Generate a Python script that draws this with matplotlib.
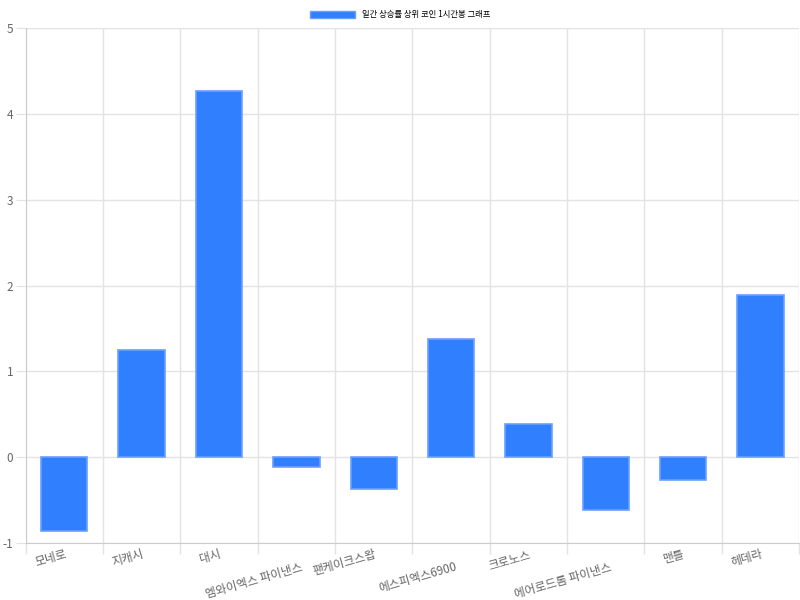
import matplotlib.pyplot as plt
from matplotlib.patches import Patch

plt.rcParams['font.family'] = ['Noto Sans CJK KR', 'DejaVu Sans']
plt.rcParams['axes.unicode_minus'] = False

coins = ["모네로", "지캐시", "대시", "엠와이엑스 파이낸스", "팬케이크스왑",
         "에스피엑스6900", "크로노스", "에어로드롬 파이낸스", "맨틀", "헤데라"]
changes = [-0.86, 1.25, 4.27, -0.11, -0.37, 1.38, 0.39, -0.62, -0.26, 1.89]
second_row = [False, False, False, True, False, True, False, True, False, False]
title = "일간 상승률 상위 코인 1시간봉 그래프"

bar_color = "#2f7fff"
edge_color = "#6b9fff"
grid_color = "#e3e3e3"
text_color = "#666666"

fig = plt.figure(figsize=(8, 6), dpi=100)
ax = fig.add_axes([0.032, 0.095, 0.967, 0.858])

x = list(range(len(coins)))
ax.bar(x, changes, width=0.6, color=bar_color, edgecolor=edge_color, linewidth=1.2, zorder=3)

ax.set_xlim(-0.5, len(coins) - 0.5)
ax.set_ylim(-1, 5)
ax.set_yticks(range(-1, 6))

# category gridlines sit between the bars
ax.set_xticks([i - 0.5 for i in range(len(coins) + 1)], minor=False)
ax.set_xticklabels([])
ax.tick_params(axis='x', length=8, color=grid_color, width=1)
ax.set_xticks(x, minor=True)
labels = [("\n" + c) if s else c for c, s in zip(coins, second_row)]
ax.set_xticklabels(labels, minor=True, rotation=16, ha='right', va='top',
                   rotation_mode='anchor', fontsize=8.5, color=text_color,
                   linespacing=1.1)
ax.tick_params(axis='x', which='minor', length=0, pad=3)

ax.tick_params(axis='y', length=7, color=grid_color, labelsize=8.5, labelcolor=text_color, pad=2)
ax.grid(True, which='major', color=grid_color, linewidth=1, zorder=0)
for side in ['top', 'right']:
    ax.spines[side].set_visible(False)
for side in ['left', 'bottom']:
    ax.spines[side].set_color("#cccccc")

handle = Patch(facecolor=bar_color, edgecolor=edge_color)
fig.legend([handle], [title], loc='upper center', bbox_to_anchor=(0.5, 0.995),
           frameon=False, fontsize=6, handlelength=5.5, handleheight=1.0)

fig.savefig("out.png", dpi=100)
